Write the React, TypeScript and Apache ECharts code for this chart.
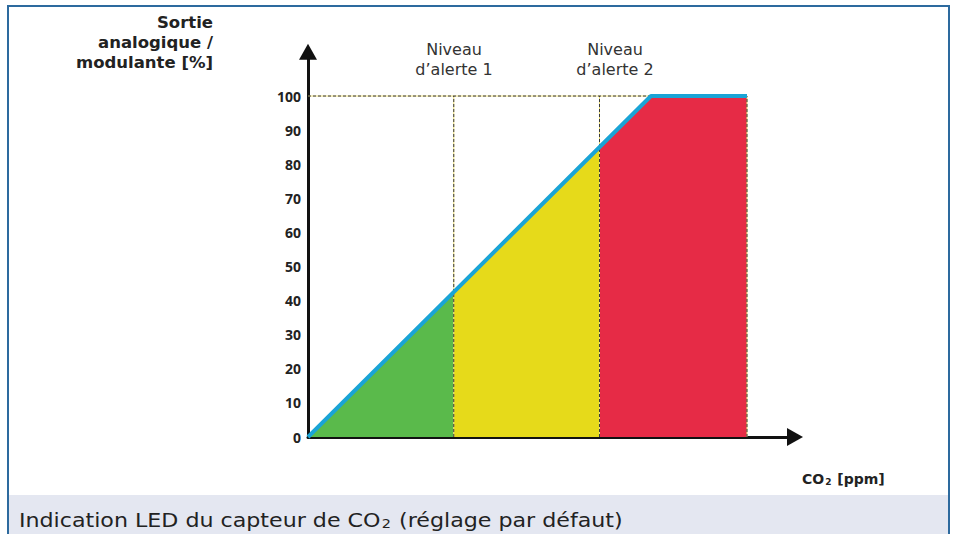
import { useEffect, useRef } from "react";
import * as echarts from "echarts";

// Output (%) tick labels
const yTicks = [0, 10, 20, 30, 40, 50, 60, 70, 80, 90, 100];
// CO2 axis (arbitrary units, no labels) – breakpoints of the curve
const alertLevels = [42.5, 85];
const rampEnd = 100;
const curveEnd = 128;
// Zones (x, output %)
const greenZone = [[0, 0], [42.5, 42.5]];
const yellowZone = [[42.5, 42.5], [85, 85]];
const redZone = [[85, 85], [100, 100], [128, 100]];
const outputCurve = [[0, 0], [100, 100], [128, 100]];
const alertLabels = ["Niveau\nd\u2019alerte 1", "Niveau\nd\u2019alerte 2"];

export default function App() {
  const ref = useRef<HTMLDivElement>(null);
  useEffect(() => {
    if (!ref.current) return;
    const chart = echarts.init(ref.current, null, { renderer: "svg" });
    const dashSeries = (data: number[][]) => [
      {
        type: "line",
        data,
        showSymbol: false,
        silent: true,
        lineStyle: { color: "#eadc7a", width: 1 },
        z: 3,
      },
      {
        type: "line",
        data,
        showSymbol: false,
        silent: true,
        lineStyle: { color: "#3a3a3a", width: 1, type: [3, 2] },
        z: 4,
      },
    ];
    const guides: number[][][] = [
      [[0, 100], [rampEnd, 100]],
      [[alertLevels[0], 0], [alertLevels[0], 100]],
      [[alertLevels[1], 0], [alertLevels[1], 100]],
      [[curveEnd, 0], [curveEnd, 100]],
    ];
    const axisLineCommon = {
      show: true,
      symbol: ["none", "triangle"],
      symbolSize: [18, 16],
      lineStyle: { color: "#111", width: 3 },
    };
    chart.setOption({
      animation: false,
      grid: { left: 308, top: 51.7, right: 159, bottom: 97 },
      xAxis: {
        type: "value",
        min: 0,
        max: 142,
        axisLine: axisLineCommon,
        axisTick: { show: false },
        axisLabel: { show: false },
        splitLine: { show: false },
      },
      yAxis: {
        type: "value",
        min: 0,
        max: 113,
        interval: 10,
        axisLine: axisLineCommon,
        axisTick: { show: false },
        splitLine: { show: false },
        axisLabel: {
          margin: 7,
          color: "#222",
          fontWeight: "bold",
          fontSize: 14,
          fontFamily: "Noto Sans",
          formatter: (v: number) => (yTicks.includes(v) ? String(v) : ""),
        },
      },
      series: [
        {
          type: "line",
          data: greenZone,
          showSymbol: false,
          lineStyle: { width: 0 },
          areaStyle: { color: "#5aba4b", opacity: 1 },
          z: 2,
        },
        {
          type: "line",
          data: yellowZone,
          showSymbol: false,
          lineStyle: { width: 0 },
          areaStyle: { color: "#e6da1a", opacity: 1 },
          z: 2,
        },
        {
          type: "line",
          data: redZone,
          showSymbol: false,
          lineStyle: { width: 0 },
          areaStyle: { color: "#e62b46", opacity: 1 },
          z: 2,
        },
        ...guides.flatMap((g) => dashSeries(g)),
        {
          type: "line",
          data: outputCurve,
          showSymbol: false,
          lineStyle: { color: "#1aa4d6", width: 4 },
          z: 6,
        },
      ],
      graphic: [
        {
          type: "rect",
          silent: true,
          z: -10,
          shape: { x: 9, y: 495, width: 939, height: 45 },
          style: { fill: "#e4e7f1" },
        },
        {
          type: "rect",
          silent: true,
          z: 50,
          shape: { x: 8, y: 6, width: 941, height: 540 },
          style: { fill: "none", stroke: "#2d6a9e", lineWidth: 2 },
        },
        {
          type: "text",
          x: 213,
          y: 12,
          style: {
            text: "Sortie\nanalogique /\nmodulante [%]",
            align: "right",
            verticalAlign: "top",
            font: "bold 16.5px 'DejaVu Sans'",
            lineHeight: 20,
            fill: "#222",
          },
        },
        {
          type: "text",
          x: 454,
          y: 39,
          style: {
            text: alertLabels[0],
            align: "center",
            verticalAlign: "top",
            font: "16px 'DejaVu Sans'",
            lineHeight: 20,
            fill: "#333",
          },
        },
        {
          type: "text",
          x: 615,
          y: 39,
          style: {
            text: alertLabels[1],
            align: "center",
            verticalAlign: "top",
            font: "16px 'DejaVu Sans'",
            lineHeight: 20,
            fill: "#333",
          },
        },
        {
          type: "text",
          x: 802,
          y: 477,
          style: {
            text: "{a|CO}{s|2}{a| [ppm]}",
            align: "left",
            verticalAlign: "middle",
            fill: "#222",
            rich: {
              a: { font: "bold 14px 'DejaVu Sans'", lineHeight: 18, fill: "#222", verticalAlign: "bottom" },
              s: { font: "bold 9px 'DejaVu Sans'", lineHeight: 10, fill: "#222", verticalAlign: "bottom", padding: [0, 1, 0, 1] },
            },
          },
        },
        {
          type: "text",
          x: 19,
          y: 517,
          scaleX: 1.108,
          style: {
            text: "{a|Indication LED du capteur de CO}{s|2}{a| (réglage par défaut)}",
            align: "left",
            verticalAlign: "middle",
            fill: "#222",
            rich: {
              a: { font: "20px 'DejaVu Sans'", lineHeight: 26, fill: "#222", verticalAlign: "bottom" },
              s: { font: "13px 'DejaVu Sans'", lineHeight: 12, fill: "#222", verticalAlign: "bottom", padding: [0, 1, 0, 1] },
            },
          },
        },
      ],
    });
    return () => chart.dispose();
  }, []);
  return (
    <div
      ref={ref}
      style={{ position: "fixed", left: 0, top: 0, width: 954, height: 534, background: "#fff" }}
    />
  );
}
